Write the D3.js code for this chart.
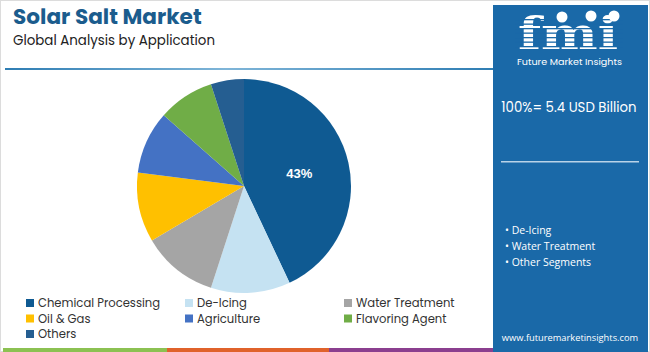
<!DOCTYPE html>
<html>
<head>
<meta charset="utf-8">
<script src="https://cdn.jsdelivr.net/npm/d3@7"></script>
<style>
  html, body { margin: 0; padding: 0; background: #fff; }
  svg { display: block; font-family: Poppins, "Open Sans", Lato, sans-serif; }
</style>
</head>
<body>
<svg id="chart" width="650" height="352"></svg>
<script>
'use strict';

// data
const categories = ['Chemical Processing', 'De-Icing', 'Water Treatment', 'Oil & Gas', 'Agriculture', 'Flavoring Agent', 'Others'];
const shares = [43, 12, 11.5, 10.5, 9.5, 8.5, 5];
const colors = ['#0f5a92', '#c5e2f2', '#a5a5a5', '#ffc000', '#4472c4', '#70ad47', '#255e91'];
const shownLabels = ['43%', '', '', '', '', '', ''];
const sideBullets = ['De-Icing', 'Water Treatment', 'Other Segments'];

const svg = d3.select('#chart');
const W = 650, H = 352;

// frame
svg.append('rect').attr('x', 0.5).attr('y', 0.5).attr('width', W - 1).attr('height', H - 1)
  .attr('fill', '#fff').attr('stroke', '#dcdcdc');

// title
svg.append('text').attr('x', 13).attr('y', 24).attr('fill', '#1b5c8d')
  .attr('font-size', 21.6).attr('font-weight', 700).text('Solar Salt Market');
svg.append('text').attr('x', 13).attr('y', 45).attr('fill', '#222')
  .attr('font-size', 13.4).text('Global Analysis by Application');

// divider under title
const grad = svg.append('defs').append('linearGradient').attr('id', 'lineGrad');
grad.append('stop').attr('offset', '0%').attr('stop-color', '#2e7db3');
grad.append('stop').attr('offset', '45%').attr('stop-color', '#7fb5d8');
grad.append('stop').attr('offset', '100%').attr('stop-color', '#2e7db3');
svg.append('rect').attr('x', 5).attr('y', 68).attr('width', 490).attr('height', 2).attr('fill', 'url(#lineGrad)');

// pie
const cx = 244, cy = 186, r = 107;
const pie = d3.pie().sort(null).value(d => d);
const arc = d3.arc().innerRadius(0).outerRadius(r);
const arcs = pie(shares);
const g = svg.append('g').attr('transform', `translate(${cx},${cy})`);
g.selectAll('path').data(arcs).enter().append('path')
  .attr('d', arc).attr('fill', (d, i) => colors[i]);

const labelArc = d3.arc().innerRadius(r * 0.53).outerRadius(r * 0.53);
g.selectAll('text.lbl').data(arcs).enter().append('text')
  .attr('class', 'lbl')
  .attr('transform', d => `translate(${labelArc.centroid(d)})`)
  .attr('text-anchor', 'middle').attr('dy', '0.35em')
  .attr('fill', '#fff').attr('font-size', 13).attr('font-weight', 700)
  .attr('font-family', 'Arial, "Liberation Sans", sans-serif')
  .text((d, i) => shownLabels[i]);

// legend
const legCols = [26, 185, 344];
const legend = svg.append('g');
categories.forEach((c, i) => {
  const col = i % 3, row = Math.floor(i / 3);
  const x = legCols[col], y = 303 + row * 15.5;
  legend.append('rect').attr('x', x).attr('y', y - 4).attr('width', 8).attr('height', 8).attr('fill', colors[i]);
  legend.append('text').attr('x', x + 12).attr('y', y).attr('dy', '0.35em')
    .attr('font-size', 11.6).attr('fill', '#333').text(c);
});

// bottom colour strip
const strip = [['#8cc152', 3, 167], ['#e0622b', 167, 329], ['#8b3f8f', 329, 493]];
strip.forEach(s => svg.append('rect').attr('x', s[1]).attr('y', 348).attr('width', s[2] - s[1]).attr('height', 4).attr('fill', s[0]));

// right panel
const px = 493, pw = 155;
svg.append('rect').attr('x', px).attr('y', 5).attr('width', pw).attr('height', H - 5).attr('fill', '#1a69a8');
const pmid = px + pw / 2;

// logo
const logo = svg.append('g');
logo.append('text').attr('x', 518).attr('y', 49)
  .attr('fill', '#fff').attr('font-size', 44).attr('font-weight', 700)
  .attr('font-family', '"DejaVu Serif", serif')
  .attr('textLength', 100).attr('lengthAdjust', 'spacingAndGlyphs').text('fmi');
for (let k = 0; k < 7; k++) {
  logo.append('rect').attr('x', 515).attr('y', 19 + k * 4.5).attr('width', 108).attr('height', 1.3).attr('fill', '#1a69a8');
}
[[562, 17], [591, 16], [614, 16]].forEach(p => {
  logo.append('circle').attr('cx', p[0]).attr('cy', p[1]).attr('r', 5.5).attr('fill', '#fff');
});
logo.append('text').attr('x', pmid - 1).attr('y', 65).attr('text-anchor', 'middle')
  .attr('fill', '#fff').attr('font-size', 9.6).text('Future Market Insights');

svg.append('text').attr('x', 569).attr('y', 112).attr('text-anchor', 'middle')
  .attr('fill', '#fff').attr('font-size', 13.3).text('100%= 5.4 USD Billion');

svg.append('rect').attr('x', 501).attr('y', 161).attr('width', 138).attr('height', 1.5).attr('fill', '#b9d3e8');

sideBullets.forEach((b, i) => {
  svg.append('text').attr('x', 505).attr('y', 234 + i * 16).attr('fill', '#fff')
    .attr('font-size', 10.5).attr('font-family', '"Open Sans", sans-serif').text('\u2022 ' + b);
});

svg.append('text').attr('x', 570).attr('y', 341).attr('text-anchor', 'middle')
  .attr('fill', '#fff').attr('font-size', 9.3).attr('font-family', '"Open Sans", sans-serif')
  .text('www.futuremarketinsights.com');
</script>
</body>
</html>
